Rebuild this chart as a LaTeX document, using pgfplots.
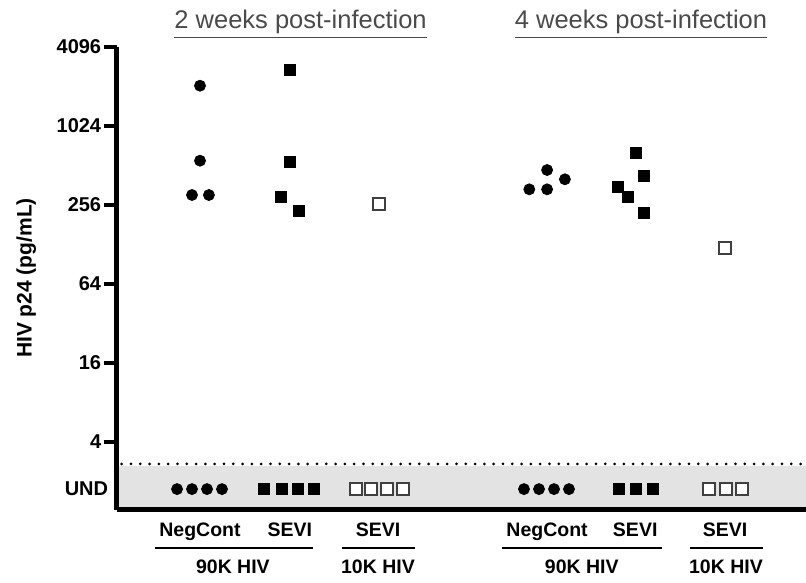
\documentclass[border=0pt]{standalone}
\usepackage{fontspec}
\setmainfont{Liberation Sans}
\usepackage{pgfplots}
\pgfplotsset{compat=1.18}
\definecolor{bandgray}{HTML}{E3E3E3}
\definecolor{titlegray}{HTML}{4A4A4A}
\tikzset{lab/.style={font=\fontsize{9.75}{11}\selectfont\bfseries, anchor=base}}

% UND plotted at 1.75 (below the detection line)
\begin{document}
\begin{tikzpicture}
\begin{axis}[
  scale only axis, width=344.75pt, height=231.5pt,
  ymode=log, log basis y=2,
  xmin=0.062, xmax=7.809, ymin=1.213, ymax=4096,
  axis x line*=bottom, axis y line*=left,
  axis line style={line width=2.5pt, -},
  axis on top, clip=false,
  xtick=\empty,
  ytick={4,16,64,256,1024,4096},
  yticklabels={4,16,64,256,1024,4096},
  extra y ticks={1.75}, extra y tick labels={UND},
  extra y tick style={major tick length=0pt, yticklabel style={xshift=-3pt}},
  tick align=outside, major tick length=6.5pt,
  major tick style={line width=2pt, black},
  /pgf/number format/assume math mode=true,
  yticklabel style={font=\fontsize{10}{11}\selectfont\bfseries, inner sep=1pt},
  ylabel={HIV p24 (pg/mL)},
  ylabel style={at={(rel axis cs:-0.131,0.501)}, anchor=center,
    font=\fontsize{10.5}{12}\selectfont\bfseries},
]
% shaded UND band and detection limit
\fill[bandgray] (axis cs:0.062,1.213) rectangle (axis cs:7.809,2.62);
\draw[line width=1.5pt, line cap=round, dash pattern=on 0pt off 4.65pt]
  (axis cs:0.12,2.72) -- (axis cs:7.809,2.72);

% 90K HIV, NegCont (filled circles)
\addplot[only marks, mark=*, mark size=2.75pt, black] coordinates {
  (1.00,2076) (1.00,557) (0.91,305) (1.10,305)
  (4.70,337) (4.90,473) (4.90,337) (5.10,402)
  (0.742,1.75) (0.910,1.75) (1.079,1.75) (1.247,1.75)
  (4.640,1.75) (4.809,1.75) (4.978,1.75) (5.146,1.75)
};
% 90K HIV, SEVI (filled squares)
\addplot[only marks, mark=square*, mark size=2.75pt, black] coordinates {
  (2.01,2736) (2.01,545) (1.91,296) (2.11,230)
  (5.90,634) (5.99,426) (5.70,353) (5.81,293) (5.99,224)
  (1.719,1.75) (1.921,1.75) (2.101,1.75) (2.281,1.75)
  (5.708,1.75) (5.899,1.75) (6.090,1.75)
};
% 10K HIV, SEVI (open squares)
\addplot[only marks, mark=square*, mark size=3pt,
  mark options={fill=white, draw=black!75, line width=0.8pt}] coordinates {
  (3.01,260) (6.90,120)
  (2.753,1.75) (2.921,1.75) (3.101,1.75) (3.281,1.75)
  (6.719,1.75) (6.910,1.75) (7.090,1.75)
};

% group labels under the axis
\node[lab] at ({axis cs:1.00,2}|-{rel axis cs:0,-0.0583}) {NegCont};
\node[lab] at ({axis cs:2.01,2}|-{rel axis cs:0,-0.0583}) {SEVI};
\node[lab] at ({axis cs:3.00,2}|-{rel axis cs:0,-0.0583}) {SEVI};
\node[lab] at ({axis cs:4.90,2}|-{rel axis cs:0,-0.0583}) {NegCont};
\node[lab] at ({axis cs:5.89,2}|-{rel axis cs:0,-0.0583}) {SEVI};
\node[lab] at ({axis cs:6.90,2}|-{rel axis cs:0,-0.0583}) {SEVI};
\draw[line width=1.35pt] ({axis cs:0.494,2}|-{rel axis cs:0,-0.0821}) -- ({axis cs:2.270,2}|-{rel axis cs:0,-0.0821});
\draw[line width=1.35pt] ({axis cs:2.596,2}|-{rel axis cs:0,-0.0821}) -- ({axis cs:3.416,2}|-{rel axis cs:0,-0.0821});
\draw[line width=1.35pt] ({axis cs:4.393,2}|-{rel axis cs:0,-0.0821}) -- ({axis cs:6.191,2}|-{rel axis cs:0,-0.0821});
\draw[line width=1.35pt] ({axis cs:6.506,2}|-{rel axis cs:0,-0.0821}) -- ({axis cs:7.326,2}|-{rel axis cs:0,-0.0821});
\node[lab] at ({axis cs:1.37,2}|-{rel axis cs:0,-0.1382}) {90K HIV};
\node[lab] at ({axis cs:3.00,2}|-{rel axis cs:0,-0.1382}) {10K HIV};
\node[lab] at ({axis cs:5.29,2}|-{rel axis cs:0,-0.1382}) {90K HIV};
\node[lab] at ({axis cs:6.91,2}|-{rel axis cs:0,-0.1382}) {10K HIV};

% panel titles
\node[font=\fontsize{12.75}{14}\selectfont, text=titlegray]
  at ({axis cs:2.13,2}|-{rel axis cs:0,1.049}) {\underline{2 weeks post-infection}};
\node[font=\fontsize{12.75}{14}\selectfont, text=titlegray]
  at ({axis cs:5.955,2}|-{rel axis cs:0,1.049}) {\underline{4 weeks post-infection}};

\coordinate (bl) at (rel axis cs:-0.169,-0.1577);
\coordinate (tr) at (rel axis cs:1,1.1015);
\end{axis}
\pgfresetboundingbox
\path[use as bounding box] (bl) rectangle (tr);
\end{tikzpicture}
\end{document}
